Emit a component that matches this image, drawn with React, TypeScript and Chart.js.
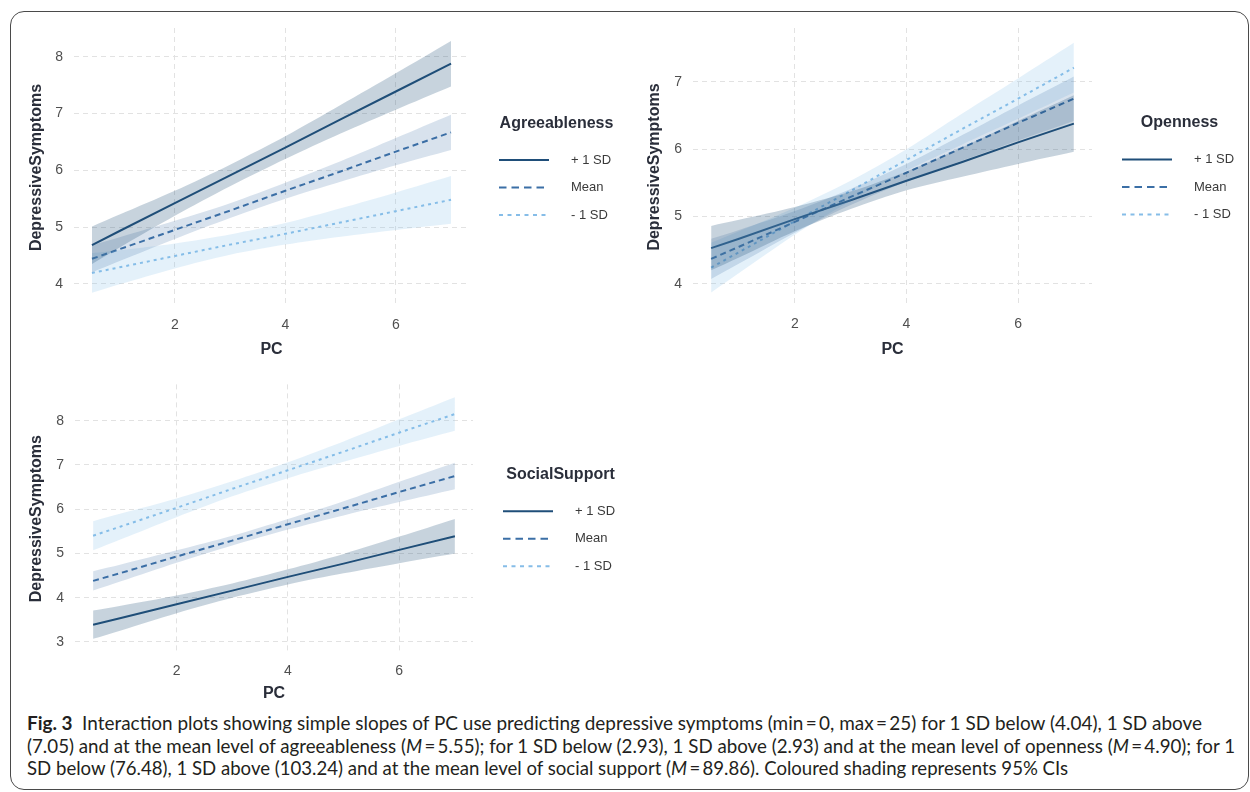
import React, { useEffect, useLayoutEffect, useRef } from 'react';
import { Chart, registerables } from 'chart.js';

Chart.register(...registerables);

// ---------------- DATA ----------------
const PC_X = [0.5, 1, 2, 3, 4, 5, 6, 7];
const X_TICKS = [2, 4, 6];
const SERIES_LABELS = ['+ 1 SD', 'Mean', '- 1 SD'];

// Agreeableness panel
const AGR_Y_TICKS = [4, 5, 6, 7, 8];
const AGR_PLUS = [4.68, 4.93, 5.42, 5.91, 6.4, 6.9, 7.39, 7.88];
const AGR_PLUS_LO = [4.35, 4.64, 5.2, 5.72, 6.2, 6.65, 7.07, 7.48];
const AGR_PLUS_HI = [5.01, 5.22, 5.64, 6.1, 6.6, 7.15, 7.71, 8.28];
const AGR_MEAN = [4.44, 4.61, 4.95, 5.29, 5.64, 5.98, 6.33, 6.67];
const AGR_MEAN_LO = [4.2, 4.4, 4.79, 5.16, 5.5, 5.8, 6.09, 6.36];
const AGR_MEAN_HI = [4.68, 4.82, 5.11, 5.42, 5.78, 6.16, 6.57, 6.98];
const AGR_MINUS = [4.19, 4.29, 4.49, 4.69, 4.88, 5.08, 5.28, 5.48];
const AGR_MINUS_LO = [3.84, 3.99, 4.27, 4.51, 4.69, 4.83, 4.95, 5.06];
const AGR_MINUS_HI = [4.54, 4.59, 4.71, 4.87, 5.07, 5.33, 5.61, 5.9];

// Openness panel
const OPN_Y_TICKS = [4, 5, 6, 7];
const OPN_PLUS = [4.53, 4.67, 4.96, 5.24, 5.53, 5.81, 6.1, 6.38];
const OPN_PLUS_LO = [4.2, 4.39, 4.78, 5.11, 5.39, 5.59, 5.78, 5.96];
const OPN_PLUS_HI = [4.86, 4.95, 5.14, 5.37, 5.67, 6.03, 6.42, 6.8];
const OPN_MEAN = [4.37, 4.55, 4.92, 5.29, 5.65, 6.02, 6.39, 6.75];
const OPN_MEAN_LO = [4.07, 4.3, 4.76, 5.17, 5.52, 5.83, 6.13, 6.42];
const OPN_MEAN_HI = [4.67, 4.8, 5.08, 5.41, 5.78, 6.21, 6.65, 7.08];
const OPN_MINUS = [4.24, 4.47, 4.93, 5.38, 5.84, 6.3, 6.75, 7.21];
const OPN_MINUS_LO = [3.87, 4.16, 4.73, 5.23, 5.68, 6.07, 6.45, 6.84];
const OPN_MINUS_HI = [4.61, 4.78, 5.13, 5.53, 6.0, 6.53, 7.05, 7.58];

// Social support panel
const SOC_Y_TICKS = [3, 4, 5, 6, 7, 8];
const SOC_PLUS = [3.39, 3.54, 3.85, 4.16, 4.47, 4.77, 5.08, 5.39];
const SOC_PLUS_LO = [3.07, 3.26, 3.65, 4.0, 4.3, 4.55, 4.78, 5.0];
const SOC_PLUS_HI = [3.71, 3.82, 4.05, 4.32, 4.64, 4.99, 5.38, 5.78];
const SOC_MEAN = [4.38, 4.56, 4.93, 5.29, 5.66, 6.02, 6.39, 6.75];
const SOC_MEAN_LO = [4.16, 4.37, 4.79, 5.18, 5.54, 5.86, 6.16, 6.45];
const SOC_MEAN_HI = [4.6, 4.75, 5.07, 5.4, 5.78, 6.18, 6.62, 7.05];
const SOC_MINUS = [5.4, 5.61, 6.03, 6.46, 6.88, 7.3, 7.73, 8.15];
const SOC_MINUS_LO = [5.07, 5.32, 5.82, 6.29, 6.7, 7.07, 7.43, 7.77];
const SOC_MINUS_HI = [5.73, 5.9, 6.24, 6.63, 7.06, 7.53, 8.03, 8.53];

const CAPTION_LINE_1 =
  'Interaction plots showing simple slopes of PC use predicting depressive symptoms (min\u2009=\u20090, max\u2009=\u200925) for 1 SD below (4.04), 1 SD above';
const CAPTION_LINE_2_PARTS = [
  '(7.05) and at the mean level of agreeableness (',
  'M',
  '\u2009=\u20095.55); for 1 SD below (2.93), 1 SD above (2.93) and at the mean level of openness (',
  'M',
  '\u2009=\u20094.90); for 1',
];
const CAPTION_LINE_3_PARTS = [
  'SD below (76.48), 1 SD above (103.24) and at the mean level of social support (',
  'M',
  '\u2009=\u200989.86). Coloured shading represents 95% CIs',
];

// ---------------- STYLES ----------------
const FONT = "'Liberation Sans', Arial, Helvetica, sans-serif";
const TITLE_COLOR = '#2a2e3a';
const TICK_COLOR = '#4f4f4f';
const GRID_COLOR = '#e2e2e2';
const SERIES_STYLES = [
  { line: '#1f4e79', band: 'rgba(31,78,121,0.25)', dash: [] as number[], legendDash: [] as number[] },
  { line: '#3b6fa6', band: 'rgba(59,111,166,0.2)', dash: [6, 4], legendDash: [7.5, 5] },
  { line: '#86bde8', band: 'rgba(134,189,232,0.22)', dash: [3, 4], legendDash: [4, 4.5] },
];

interface SeriesData { fit: number[]; lo: number[]; hi: number[] }
interface PanelSpec {
  legendTitle: string;
  yTicks: number[];
  yMin: number; yMax: number;
  xMin: number; xMax: number;
  series: SeriesData[];
  left: number; top: number; w: number; h: number;
  area: { left: number; top: number; right: number; bottom: number };
  yTitleX: number;
  xTitleY: number;
}

const PANELS: PanelSpec[] = [
  {
    legendTitle: 'Agreeableness',
    yTicks: AGR_Y_TICKS, yMin: 3.59, yMax: 8.51, xMin: 0.175, xMax: 7.325,
    series: [
      { fit: AGR_PLUS, lo: AGR_PLUS_LO, hi: AGR_PLUS_HI },
      { fit: AGR_MEAN, lo: AGR_MEAN_LO, hi: AGR_MEAN_HI },
      { fit: AGR_MINUS, lo: AGR_MINUS_LO, hi: AGR_MINUS_HI },
    ],
    left: 0, top: 0, w: 640, h: 365,
    area: { left: 74, top: 28, right: 469, bottom: 307 },
    yTitleX: 37, xTitleY: 350,
  },
  {
    legendTitle: 'Openness',
    yTicks: OPN_Y_TICKS, yMin: 3.67, yMax: 7.8, xMin: 0.175, xMax: 7.325,
    series: [
      { fit: OPN_PLUS, lo: OPN_PLUS_LO, hi: OPN_PLUS_HI },
      { fit: OPN_MEAN, lo: OPN_MEAN_LO, hi: OPN_MEAN_HI },
      { fit: OPN_MINUS, lo: OPN_MINUS_LO, hi: OPN_MINUS_HI },
    ],
    left: 620, top: 0, w: 630, h: 365,
    area: { left: 73, top: 28, right: 472, bottom: 306 },
    yTitleX: 35, xTitleY: 350,
  },
  {
    legendTitle: 'SocialSupport',
    yTicks: SOC_Y_TICKS, yMin: 2.75, yMax: 8.82, xMin: 0.175, xMax: 7.325,
    series: [
      { fit: SOC_PLUS, lo: SOC_PLUS_LO, hi: SOC_PLUS_HI },
      { fit: SOC_MEAN, lo: SOC_MEAN_LO, hi: SOC_MEAN_HI },
      { fit: SOC_MINUS, lo: SOC_MINUS_LO, hi: SOC_MINUS_HI },
    ],
    left: 0, top: 365, w: 640, h: 340,
    area: { left: 75, top: 10, right: 473, bottom: 288 },
    yTitleX: 37, xTitleY: 329,
  },
];

const pts = (ys: number[]) => ys.map((y, i) => ({ x: PC_X[i], y }));

function makeLegendPlugin(title: string) {
  return {
    id: 'ggLegend',
    afterDraw(chart: any) {
      const { ctx, chartArea } = chart;
      const x0 = chartArea.right + 30;
      const cy = (chartArea.top + chartArea.bottom) / 2;
      ctx.save();
      ctx.font = `bold 16px ${FONT}`;
      ctx.fillStyle = TITLE_COLOR;
      ctx.textAlign = 'center';
      ctx.textBaseline = 'middle';
      ctx.fillText(title, x0 + 57.5, cy - 44);
      SERIES_LABELS.forEach((label, i) => {
        const st = SERIES_STYLES[i];
        const y = cy + 20 + (i - 1) * 27.5;
        ctx.beginPath();
        ctx.setLineDash(st.legendDash);
        ctx.strokeStyle = st.line;
        ctx.lineWidth = 2;
        ctx.moveTo(x0, y);
        ctx.lineTo(x0 + 50, y);
        ctx.stroke();
        ctx.setLineDash([]);
        ctx.font = `13px ${FONT}`;
        ctx.fillStyle = '#3a3a3a';
        ctx.textAlign = 'left';
        ctx.fillText(label, x0 + 72, y);
      });
      ctx.restore();
    },
  };
}

function buildConfig(spec: PanelSpec): any {
  const datasets: any[] = [];
  spec.series.forEach((s, i) => {
    const st = SERIES_STYLES[i];
    datasets.push({
      label: 'lo', data: pts(s.lo), borderWidth: 0, borderColor: 'transparent',
      pointRadius: 0, fill: false, tension: 0.3,
    });
    datasets.push({
      label: 'hi', data: pts(s.hi), borderWidth: 0, borderColor: 'transparent',
      pointRadius: 0, fill: '-1', backgroundColor: st.band, tension: 0.3,
    });
  });
  spec.series.forEach((s, i) => {
    const st = SERIES_STYLES[i];
    datasets.push({
      label: SERIES_LABELS[i], data: pts(s.fit), borderColor: st.line, borderWidth: 2,
      borderDash: st.dash, pointRadius: 0, fill: false, tension: 0,
    });
  });

  const a = spec.area;
  return {
    type: 'line',
    data: { datasets },
    plugins: [makeLegendPlugin(spec.legendTitle)],
    options: {
      responsive: false,
      animation: false,
      maintainAspectRatio: false,
      events: [],
      layout: { padding: { left: 0, top: a.top, right: spec.w - a.right, bottom: 0 } },
      plugins: { legend: { display: false }, tooltip: { enabled: false }, title: { display: false } },
      scales: {
        x: {
          type: 'linear', min: spec.xMin, max: spec.xMax,
          afterBuildTicks: (axis: any) => { axis.ticks = X_TICKS.map((v) => ({ value: v })); },
          afterFit: (axis: any) => { axis.height = spec.h - a.bottom; },
          grid: { color: GRID_COLOR, lineWidth: 1, drawTicks: false },
          border: { display: false, dash: [5, 4] },
          ticks: { color: TICK_COLOR, font: { family: FONT, size: 14 }, padding: 10, maxRotation: 0 },
          title: {
            display: true, text: 'PC', color: TITLE_COLOR,
            font: { family: FONT, size: 16, weight: 'bold' },
            padding: { top: 0, bottom: spec.h - spec.xTitleY - 9.6 },
          },
        },
        y: {
          type: 'linear', min: spec.yMin, max: spec.yMax,
          afterBuildTicks: (axis: any) => { axis.ticks = spec.yTicks.map((v) => ({ value: v })); },
          afterFit: (axis: any) => { axis.width = a.left; },
          grid: { color: GRID_COLOR, lineWidth: 1, drawTicks: false },
          border: { display: false, dash: [5, 4] },
          ticks: { color: TICK_COLOR, font: { family: FONT, size: 14 }, padding: 11 },
          title: {
            display: true, text: 'DepressiveSymptoms', color: TITLE_COLOR,
            font: { family: FONT, size: 16, weight: 'bold' },
            padding: { top: spec.yTitleX - 9.6, bottom: 0 },
          },
        },
      },
    },
  };
}

function Panel({ spec }: { spec: PanelSpec }) {
  const ref = useRef<HTMLCanvasElement>(null);
  useEffect(() => {
    if (!ref.current) return;
    const chart = new Chart(ref.current, buildConfig(spec));
    return () => chart.destroy();
  }, [spec]);
  return (
    <canvas
      ref={ref}
      width={spec.w}
      height={spec.h}
      style={{ position: 'absolute', left: spec.left, top: spec.top, width: spec.w, height: spec.h }}
    />
  );
}

const CAPTION_TARGET_WIDTHS = [1175, 1208, 1041];

function Caption() {
  const refs = useRef<(HTMLDivElement | null)[]>([]);
  useLayoutEffect(() => {
    const fit = () => {
      refs.current.forEach((el, i) => {
        if (!el) return;
        el.style.transform = 'none';
        const w = el.getBoundingClientRect().width;
        if (w > 0) el.style.transform = `scaleX(${CAPTION_TARGET_WIDTHS[i] / w})`;
      });
    };
    fit();
    const fonts: any = (document as any).fonts;
    if (fonts && fonts.ready) fonts.ready.then(fit);
  }, []);
  const lineStyle: React.CSSProperties = {
    display: 'inline-block', whiteSpace: 'nowrap', transformOrigin: '0 0',
  };
  const renderParts = (parts: string[]) =>
    parts.map((p, i) => (p === 'M' ? <i key={i}>M</i> : <span key={i}>{p}</span>));
  return (
    <div
      style={{
        position: 'absolute', left: 27, top: 712.4, fontFamily: "Lato, 'Open Sans', sans-serif",
        fontSize: 19, lineHeight: '22.5px', color: '#231f20',
      }}
    >
      <div><div ref={(el) => { refs.current[0] = el; }} style={lineStyle}><b>Fig. 3</b>{'\u2002'}{CAPTION_LINE_1}</div></div>
      <div><div ref={(el) => { refs.current[1] = el; }} style={lineStyle}>{renderParts(CAPTION_LINE_2_PARTS)}</div></div>
      <div><div ref={(el) => { refs.current[2] = el; }} style={lineStyle}>{renderParts(CAPTION_LINE_3_PARTS)}</div></div>
    </div>
  );
}

export default function App() {
  return (
    <div style={{ position: 'absolute', left: 0, top: 0, width: 1250, height: 792, background: '#fff', overflow: 'hidden' }}>
      <div
        style={{
          position: 'absolute', left: 10, top: 11, width: 1239, height: 779, boxSizing: 'border-box',
          border: '1.5px solid #4a4a4a', borderRadius: 14,
        }}
      />
      {PANELS.map((p, i) => (
        <Panel key={i} spec={p} />
      ))}
      <Caption />
    </div>
  );
}
